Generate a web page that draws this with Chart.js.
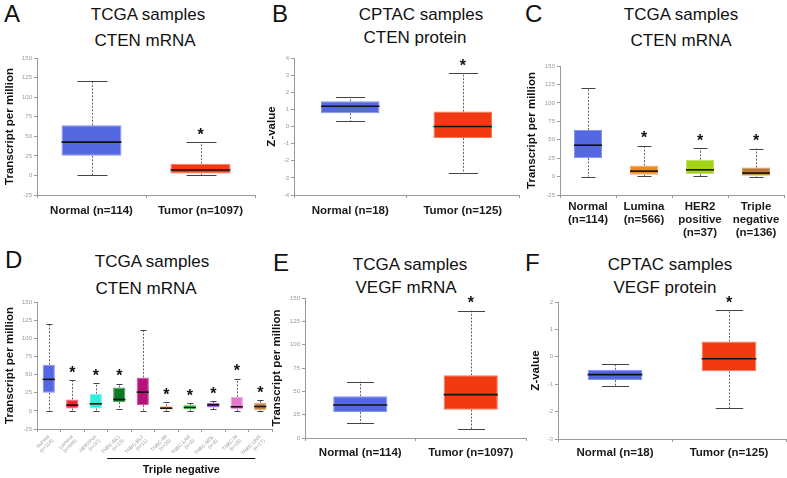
<!DOCTYPE html>
<html>
<head>
<meta charset="utf-8">
<script src="https://cdn.jsdelivr.net/npm/chart.js"></script>
<style>
  body { margin: 0; background: #fff; }
  #fig { position: relative; width: 787px; height: 478px; overflow: hidden;
         font-family: "Liberation Sans", Arial, sans-serif; color: #111; }
  #fig canvas { position: absolute; }
  .letter { position: absolute; font-size: 24px; line-height: 24px; }
  .ttl { position: absolute; width: 300px; text-align: center; font-size: 17px; line-height: 17px; }
</style>
</head>
<body>
<div id="fig">
  <div class="letter" style="left:4px;top:2px">A</div>
  <div class="letter" style="left:272px;top:2px">B</div>
  <div class="letter" style="left:525px;top:2px">C</div>
  <div class="letter" style="left:5px;top:248px">D</div>
  <div class="letter" style="left:273px;top:251px">E</div>
  <div class="letter" style="left:525px;top:251px">F</div>

  <div class="ttl" style="left:-2px;top:6px">TCGA samples</div>
  <div class="ttl" style="left:-5px;top:32px">CTEN mRNA</div>
  <div class="ttl" style="left:271px;top:6px">CPTAC samples</div>
  <div class="ttl" style="left:265px;top:29px">CTEN protein</div>
  <div class="ttl" style="left:531px;top:6px">TCGA samples</div>
  <div class="ttl" style="left:531px;top:32px">CTEN mRNA</div>
  <div class="ttl" style="left:2px;top:253px">TCGA samples</div>
  <div class="ttl" style="left:-4px;top:280px">CTEN mRNA</div>
  <div class="ttl" style="left:260px;top:256px">TCGA samples</div>
  <div class="ttl" style="left:256px;top:279px">VEGF mRNA</div>
  <div class="ttl" style="left:520px;top:256px">CPTAC samples</div>
  <div class="ttl" style="left:515px;top:279px">VEGF protein</div>

  <canvas id="chartA" width="262" height="240" style="left:0;top:0"></canvas>
  <canvas id="chartB" width="262" height="240" style="left:262px;top:0"></canvas>
  <canvas id="chartC" width="263" height="240" style="left:524px;top:0"></canvas>
  <canvas id="chartD" width="280" height="238" style="left:0;top:240px"></canvas>
  <canvas id="chartE" width="266" height="238" style="left:262px;top:240px"></canvas>
  <canvas id="chartF" width="263" height="238" style="left:524px;top:240px"></canvas>
</div>
<script>
/* ============================================================
   DATA
============================================================ */

// A: TCGA CTEN mRNA
const aGroups = ["Normal (n=114)", "Tumor (n=1097)"];
const aMin = [0, 0];
const aQ1 = [25, 2.5];
const aMed = [42.5, 7];
const aQ3 = [64, 15];
const aMax = [120, 42.5];
const aSig = [0, 1];

// B: CPTAC CTEN protein
const bGroups = ["Normal (n=18)", "Tumor (n=125)"];
const bMin = [0.3, -2.74];
const bQ1 = [0.77, -0.67];
const bMed = [1.18, 0];
const bQ3 = [1.47, 0.87];
const bMax = [1.7, 3.1];
const bSig = [0, 1];

// C: TCGA CTEN mRNA by subtype
const cGroups = [["Normal", "(n=114)"], ["Lumina", "(n=566)"], ["HER2", "positive", "(n=37)"], ["Triple", "negative", "(n=136)"]];
const cMin = [0, 0.5, 0.5, 0];
const cQ1 = [25, 2.4, 3.4, 1];
const cMed = [42.6, 7.4, 9.2, 4.7];
const cQ3 = [63.3, 15, 22.7, 12.3];
const cMax = [119.8, 41.7, 38.6, 38];
const cSig = [0, 1, 1, 1];

// D: TCGA CTEN mRNA by TNBC subtype
const dGroups = [["Normal", "(n=114)"], ["Luminal", "(n=566)"], ["HER2Pos", "(n=37)"], ["TNBC-BL1", "(n=13)"], ["TNBC-BL2", "(n=11)"],
                 ["TNBC-IM", "(n=20)"], ["TNBC-LAR", "(n=8)"], ["TNBC-MSL", "(n=8)"], ["TNBC-M", "(n=28)"], ["TNBC-UNS", "(n=27)"]];
const dMin = [0, 0, 0, 2, 0, 0, 0, 2, 0, 0];
const dQ1 = [24.9, 3.3, 3.3, 12, 7.9, 2, 2, 4.6, 2, 1];
const dMed = [43.4, 7.9, 9.7, 15.7, 25.8, 3.7, 4.6, 8.3, 5.6, 6];
const dQ3 = [63.5, 15.7, 23.5, 32.3, 46, 6.5, 7.9, 11, 19.3, 11];
const dMax = [120, 42, 38, 37.3, 111, 11.6, 10.2, 13, 44.2, 14.3];
const dSig = [0, 1, 1, 1, 0, 1, 1, 1, 1, 1];

// E: TCGA VEGF mRNA
const eGroups = ["Normal (n=114)", "Tumor (n=1097)"];
const eMin = [15.7, 9.3];
const eQ1 = [27.9, 30.4];
const eMed = [35.4, 46.5];
const eQ3 = [44.7, 67.2];
const eMax = [60.4, 136.5];
const eSig = [0, 1];

// F: CPTAC VEGF protein
const fGroups = ["Normal (n=18)", "Tumor (n=125)"];
const fMin = [-1.06, -1.88];
const fQ1 = [-0.85, -0.53];
const fMed = [-0.65, -0.07];
const fQ3 = [-0.47, 0.56];
const fMax = [-0.26, 1.7];
const fSig = [0, 1];

/* ============================================================
   COLOURS
============================================================ */
const BLUE = "#5468e2", RED = "#f23a12";
const pairFill = [BLUE, RED];
const cFill = [BLUE, "#f28a1c", "#a4d41a", "#c07830"];
const dFill = [BLUE, "#f72234", "#2ef0d8", "#0b7a22", "#b5127a", "#f37a1c", "#22e830", "#8c1ce8", "#e47acd", "#c78640"];

function lighten(hex, k) {
    const n = parseInt(hex.slice(1), 16);
    const ch = [n >> 16, (n >> 8) & 255, n & 255].map(c => Math.round(c + (255 - c) * k));
    return `rgb(${ch.join(",")})`;
}

Chart.defaults.font.family = '"Liberation Sans", Arial, sans-serif';

/* ============================================================
   Box plot = floating bar (Q1..Q3) + whiskers / median plugin
============================================================ */
function line(ctx, x1, y1, x2, y2) {
    ctx.beginPath();
    ctx.moveTo(x1, y1);
    ctx.lineTo(x2, y2);
    ctx.stroke();
}

function boxChart(id, p) {
    const whiskers = {
        id: "whiskers",
        beforeDatasetsDraw(chart) {
            const ctx = chart.ctx, y = chart.scales.y;
            ctx.save();
            ctx.lineWidth = 1;
            chart.getDatasetMeta(0).data.forEach((bar, i) => {
                const x = Math.round(bar.x) + 0.5, hw = bar.width / 4;
                const yMax = y.getPixelForValue(p.max[i]), yMin = y.getPixelForValue(p.min[i]);
                ctx.strokeStyle = "#666";
                ctx.setLineDash([2, 1.5]);
                line(ctx, x, y.getPixelForValue(p.q3[i]), x, yMax);
                line(ctx, x, y.getPixelForValue(p.q1[i]), x, yMin);
                ctx.setLineDash([]);
                ctx.strokeStyle = "#444";
                line(ctx, x - hw, Math.round(yMax) + 0.5, x + hw, Math.round(yMax) + 0.5);
                line(ctx, x - hw, Math.round(yMin) + 0.5, x + hw, Math.round(yMin) + 0.5);
            });
            ctx.restore();
        },
        afterDatasetsDraw(chart) {
            const ctx = chart.ctx, y = chart.scales.y;
            ctx.save();
            chart.getDatasetMeta(0).data.forEach((bar, i) => {
                const x = bar.x, hw = bar.width / 2;
                ctx.strokeStyle = "#111";
                ctx.lineWidth = 1.6;
                const ym = y.getPixelForValue(p.med[i]);
                line(ctx, x - hw, ym, x + hw, ym);
                if (p.sig[i]) {
                    ctx.font = "bold 16px 'Liberation Sans', Arial, sans-serif";
                    ctx.fillStyle = "#111";
                    ctx.textAlign = "center";
                    ctx.textBaseline = "alphabetic";
                    const m = ctx.measureText("*");
                    const cy = y.getPixelForValue(p.max[i]) - 11;
                    ctx.fillText("*", x, cy + (m.actualBoundingBoxAscent - m.actualBoundingBoxDescent) / 2);
                }
            });
            if (p.bracket) p.bracket(chart, ctx);
            ctx.restore();
        }
    };

    return new Chart(document.getElementById(id), {
        type: "bar",
        data: {
            labels: p.labels,
            datasets: [{
                data: p.q1.map((v, i) => [v, p.q3[i]]),
                backgroundColor: p.fill,
                borderColor: p.fill.map(c => lighten(c, 0.3)),
                borderWidth: 1,
                borderSkipped: false,
                barPercentage: p.barPct,
                categoryPercentage: 1
            }]
        },
        options: {
            responsive: false,
            animation: false,
            layout: { padding: { left: 0, top: p.area.top, right: p.area.right, bottom: 0 } },
            plugins: { legend: { display: false }, tooltip: { enabled: false } },
            scales: {
                x: {
                    grid: { drawOnChartArea: false, tickLength: 3, color: "#999" },
                    border: { color: "#999" },
                    ticks: Object.assign({ autoSkip: false, color: "#1a1a1a", padding: p.xPad, maxRotation: 0, minRotation: 0,
                        font: { size: 11.5, weight: "bold", lineHeight: 1.13 } }, p.xTicks || {}),
                    afterFit(s) { s.height = p.area.xh; }
                },
                y: {
                    min: p.yMin, max: p.yMax,
                    ticks: { stepSize: p.yStep, color: "#999", padding: 2, font: { size: 6 } },
                    grid: { drawOnChartArea: false, tickLength: 3, color: "#999" },
                    border: { color: "#999" },
                    title: { display: true, text: p.yTitle, color: "#111",
                        font: { size: 11.5, weight: "bold" }, padding: { top: p.titlePad, bottom: 0 } },
                    afterFit(s) { s.width = p.area.left; }
                }
            }
        },
        plugins: [whiskers]
    });
}

/* ============================================================
   Panels
============================================================ */
const TPM = "Transcript per million";

boxChart("chartA", { labels: aGroups, min: aMin, q1: aQ1, med: aMed, q3: aQ3, max: aMax, sig: aSig,
    fill: pairFill, barPct: 0.55, yMin: -25, yMax: 150, yStep: 25, yTitle: TPM, titlePad: 3,
    xPad: 6, area: { left: 37, top: 58, right: 7, xh: 45 } });

boxChart("chartB", { labels: bGroups, min: bMin, q1: bQ1, med: bMed, q3: bQ3, max: bMax, sig: bSig,
    fill: pairFill, barPct: 0.52, yMin: -4, yMax: 4, yStep: 1, yTitle: "Z-value", titlePad: 3,
    xPad: 6, area: { left: 32, top: 58, right: 5, xh: 45 } });

boxChart("chartC", { labels: cGroups, min: cMin, q1: cQ1, med: cMed, q3: cQ3, max: cMax, sig: cSig,
    fill: cFill, barPct: 0.5, yMin: -25, yMax: 150, yStep: 25, yTitle: TPM, titlePad: 1,
    xPad: 2, area: { left: 36, top: 66, right: 3, xh: 45 } });

boxChart("chartD", { labels: dGroups, min: dMin, q1: dQ1, med: dMed, q3: dQ3, max: dMax, sig: dSig,
    fill: dFill, barPct: 0.52, yMin: -25, yMax: 150, yStep: 25, yTitle: TPM, titlePad: 3,
    xPad: 2, area: { left: 37, top: 62, right: 8, xh: 49 },
    xTicks: { color: "#999", minRotation: 45, maxRotation: 45, font: { size: 5, lineHeight: 1.1 } },
    bracket(chart, ctx) {
        // "Triple negative" bracket under the TNBC groups
        const xs = chart.scales.x;
        const x1 = xs.getPixelForTick(3) - 12, x2 = xs.getPixelForTick(9) - 5;
        ctx.strokeStyle = "#111";
        ctx.lineWidth = 1;
        line(ctx, x1, 218.5, x2, 218.5);
        ctx.font = "bold 11px 'Liberation Sans', Arial, sans-serif";
        ctx.fillStyle = "#111";
        ctx.textAlign = "center";
        ctx.textBaseline = "middle";
        ctx.fillText("Triple negative", (x1 + x2) / 2, 230);
    } });

boxChart("chartE", { labels: eGroups, min: eMin, q1: eQ1, med: eMed, q3: eQ3, max: eMax, sig: eSig,
    fill: pairFill, barPct: 0.49, yMin: 0, yMax: 150, yStep: 25, yTitle: TPM, titlePad: 8,
    xPad: 5, area: { left: 43, top: 58, right: 2, xh: 40 } });

boxChart("chartF", { labels: fGroups, min: fMin, q1: fQ1, med: fMed, q3: fQ3, max: fMax, sig: fSig,
    fill: pairFill, barPct: 0.48, yMin: -3, yMax: 2, yStep: 1, yTitle: "Z-value", titlePad: 5,
    xPad: 4, area: { left: 34, top: 62, right: 1, xh: 39 } });
</script>
</body>
</html>
